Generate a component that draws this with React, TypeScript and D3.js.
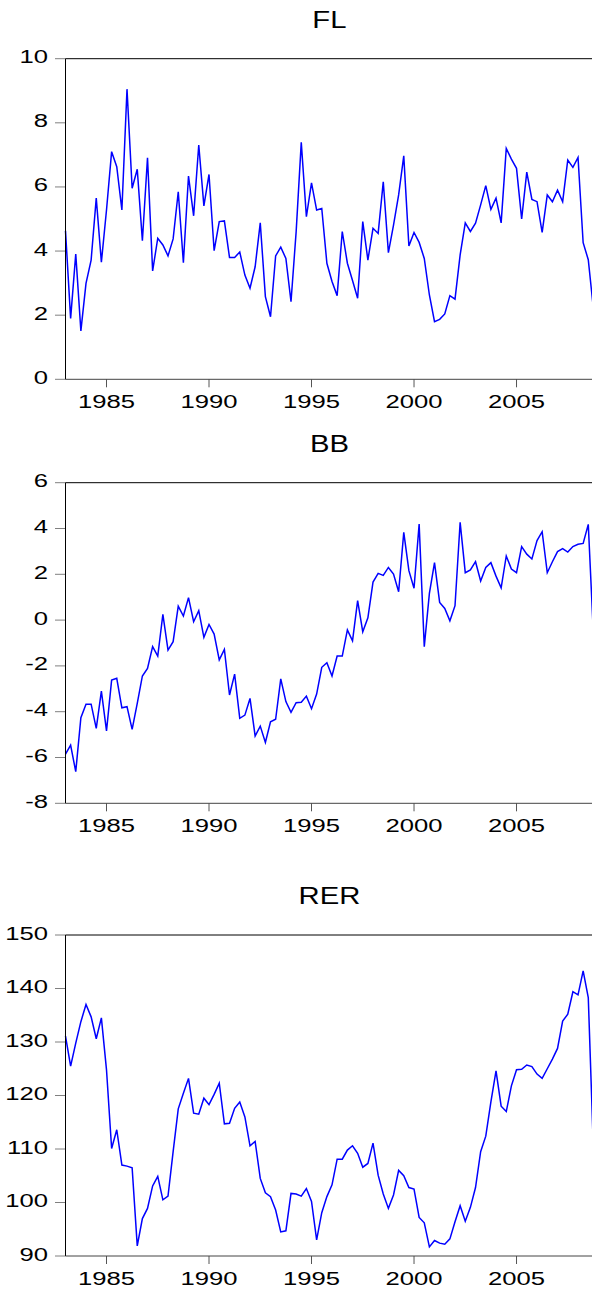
import React from "react";
import * as d3 from "d3";

// quarterly observations, 1983Q1 .. 2008Q4
const quarters: string[] = d3.range(1983, 2009).flatMap((y) => [1, 2, 3, 4].map((q) => `${y}Q${q}`));

const fl = [
  4.63, 1.9, 3.91, 1.51, 2.99, 3.72, 5.65, 3.65, 5.28, 7.1, 6.63, 5.28, 9.05, 5.96, 6.55, 4.32,
  6.91, 3.38, 4.4, 4.19, 3.85, 4.38, 5.85, 3.64, 6.34, 5.1, 7.31, 5.41, 6.39, 4.01, 4.92, 4.94,
  3.8, 3.8, 3.97, 3.25, 2.84, 3.51, 4.88, 2.58, 1.95, 3.85, 4.12, 3.77, 2.42, 4.6, 7.39, 5.07,
  6.13, 5.28, 5.33, 3.62, 3.05, 2.61, 4.61, 3.62, 3.08, 2.53, 4.92, 3.72, 4.71, 4.55, 6.16, 3.95,
  4.81, 5.75, 6.97, 4.16, 4.58, 4.27, 3.77, 2.63, 1.8, 1.87, 2.04, 2.61, 2.5, 3.88, 4.88, 4.61,
  4.87, 5.44, 6.04, 5.3, 5.65, 4.88, 7.2, 6.87, 6.58, 5.0, 6.46, 5.61, 5.54, 4.58, 5.75, 5.54,
  5.9, 5.54, 6.84, 6.61, 6.92, 4.26, 3.73, 2.2,
];

const bb = [
  -5.85, -5.46, -6.62, -4.26, -3.67, -3.67, -4.73, -3.1, -4.84, -2.62, -2.54, -3.83, -3.78, -4.77, -3.64, -2.44,
  -2.11, -1.16, -1.57, 0.25, -1.31, -0.94, 0.61, 0.18, 0.98, -0.07, 0.41, -0.75, -0.19, -0.61, -1.74, -1.28,
  -3.27, -2.36, -4.29, -4.15, -3.42, -5.06, -4.63, -5.34, -4.44, -4.33, -2.57, -3.56, -4.03, -3.61, -3.59, -3.32,
  -3.87, -3.23, -2.06, -1.86, -2.44, -1.57, -1.57, -0.43, -0.91, 0.85, -0.51, 0.1, 1.66, 2.04, 1.95, 2.3,
  2.01, 1.24, 3.83, 2.16, 1.39, 4.19, -1.16, 1.17, 2.51, 0.77, 0.51, -0.03, 0.63, 4.27, 2.07, 2.19,
  2.55, 1.71, 2.3, 2.51, 1.92, 1.41, 2.8, 2.23, 2.07, 3.21, 2.88, 2.67, 3.47, 3.86, 2.07, 2.55,
  2.99, 3.12, 2.97, 3.21, 3.31, 3.35, 4.18, -0.6,
];

const rer = [
  131.1, 125.5, 129.8, 133.8, 137.0, 134.7, 130.6, 134.5, 124.8, 110.1, 113.6, 107.0, 106.8, 106.5, 91.9, 97.0,
  98.9, 103.1, 104.9, 100.5, 101.2, 109.5, 117.5, 120.4, 123.2, 116.7, 116.5, 119.5, 118.3, 120.2, 122.3, 114.7,
  114.8, 117.6, 118.8, 116.0, 110.6, 111.4, 104.5, 101.8, 101.1, 98.6, 94.5, 94.7, 101.7, 101.6, 101.2, 102.6,
  100.2, 93.0, 98.1, 101.1, 103.3, 108.1, 108.1, 109.8, 110.6, 109.2, 106.6, 107.3, 111.1, 105.1, 101.6, 98.9,
  101.4, 106.0, 105.0, 102.8, 102.5, 97.2, 96.2, 91.7, 92.9, 92.4, 92.2, 93.2, 96.4, 99.4, 96.5, 99.1,
  102.8, 109.5, 112.4, 118.8, 124.6, 118.0, 117.0, 121.8, 124.8, 124.9, 125.7, 125.4, 124.0, 123.2, 125.0, 126.8,
  128.8, 133.9, 135.2, 139.4, 138.8, 143.3, 138.3, 110.0,
];

const yearTicks = [1985, 1990, 1995, 2000, 2005];
const flTicks = [0, 2, 4, 6, 8, 10];
const bbTicks = [-8, -6, -4, -2, 0, 2, 4, 6];
const rerTicks = [90, 100, 110, 120, 130, 140, 150];

const FONT = "'Liberation Sans', Arial, sans-serif";
const left = 65.5;
const right = 593.4; // frame runs just past the picture edge

const x = d3.scaleLinear().domain([0, quarters.length - 1]).range([left, right]);

type PanelProps = { title: string; values: number[]; ticks: number[]; top: number; bottom: number };

const Panel = ({ title, values, ticks, top, bottom }: PanelProps) => {
  const y = d3.scaleLinear().domain([ticks[0], ticks[ticks.length - 1]]).range([bottom, top]);
  const line = d3.line<number>().x((_, i) => x(i)).y((d) => y(d));
  const cx = (left + right) / 2;
  return (
    <g>
      <g transform={`translate(${cx},${top - 31}) scale(1.22,1)`}>
        <text textAnchor="middle" fontSize={24} fontFamily={FONT} fill="#000">{title}</text>
      </g>
      {ticks.map((t) => (
        <g key={t}>
          <line x1={55} x2={left} y1={y(t)} y2={y(t)} stroke="#808080" strokeWidth={1} />
          <g transform={`translate(48,${y(t) + 4.5}) scale(1.35,1)`}>
            <text textAnchor="end" fontSize={19} fontFamily={FONT} fill="#000">{t}</text>
          </g>
        </g>
      ))}
      {yearTicks.map((yr) => {
        const xi = x(quarters.indexOf(`${yr}Q1`));
        return (
          <g key={yr}>
            <line x1={xi} x2={xi} y1={bottom} y2={bottom + 8} stroke="#555" strokeWidth={1} />
            <g transform={`translate(${xi},${bottom + 29}) scale(1.35,1)`}>
              <text textAnchor="middle" fontSize={19} fontFamily={FONT} fill="#000">{yr}</text>
            </g>
          </g>
        );
      })}
      <path d={line(values) ?? ""} fill="none" stroke="#0000ff" strokeWidth={1.5} strokeLinejoin="miter" />
      <line x1={left} x2={right} y1={top} y2={top} stroke="#000" strokeWidth={1} />
      <line x1={left} x2={left} y1={top} y2={bottom} stroke="#000" strokeWidth={1} />
      <line x1={left} x2={right} y1={bottom} y2={bottom} stroke="#444" strokeWidth={1} />
      <line x1={right} x2={right} y1={top} y2={bottom} stroke="#000" strokeWidth={1} />
    </g>
  );
};

export default function App() {
  return (
    <svg
      width={592}
      height={1292}
      style={{ position: "absolute", left: 0, top: 0, background: "#fff" }}
    >
      <Panel title="FL" values={fl} ticks={flTicks} top={58.7} bottom={379.3} />
      <Panel title="BB" values={bb} ticks={bbTicks} top={482.7} bottom={803.3} />
      <Panel title="RER" values={rer} ticks={rerTicks} top={935} bottom={1256} />
    </svg>
  );
}
